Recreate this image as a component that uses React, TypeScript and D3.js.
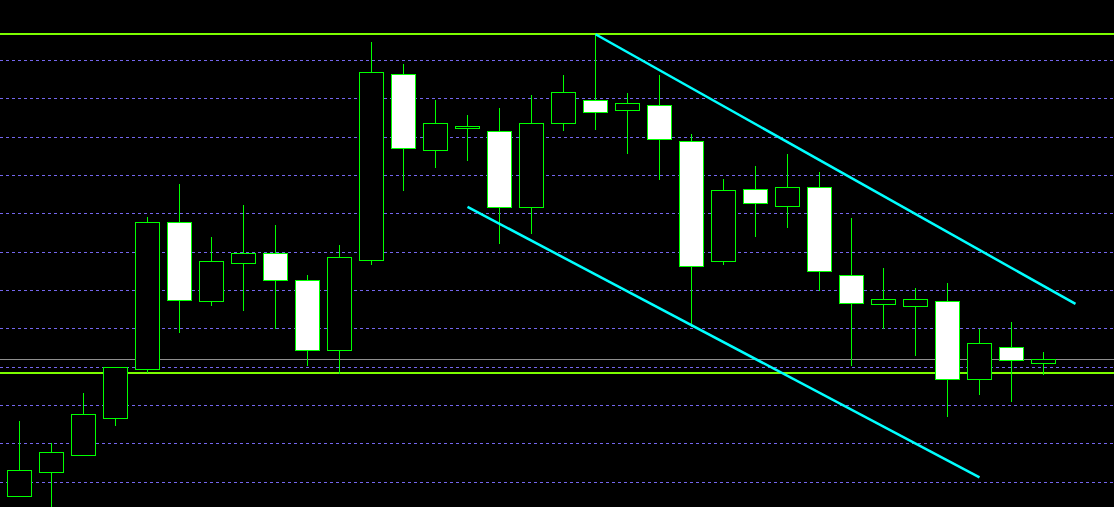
import React, { useEffect } from "react";
import * as d3 from "d3";

// OHLC prices (one candle per bar)
const opens = [1.29464, 1.29526, 1.2957, 1.29667, 1.29794, 1.30178, 1.29972, 1.30071, 1.30097, 1.30027, 1.29844, 1.30079, 1.30564, 1.30366, 1.30423, 1.30415, 1.30217, 1.30436, 1.30496, 1.3047, 1.30483, 1.30389, 1.30076, 1.30264, 1.3022, 1.30269, 1.3004, 1.29964, 1.29959, 1.29972, 1.29769, 1.29852, 1.2981];
const highs = [1.29662, 1.29605, 1.29735, 1.298, 1.30194, 1.3028, 1.30142, 1.30223, 1.30173, 1.30043, 1.30119, 1.3065, 1.30591, 1.30497, 1.30458, 1.30476, 1.3051, 1.30562, 1.30668, 1.30515, 1.30562, 1.3041, 1.30291, 1.30327, 1.30356, 1.30309, 1.30189, 1.30059, 1.30009, 1.3002, 1.299, 1.29918, 1.2984];
const lows = [1.29463, 1.2943, 1.2957, 1.29648, 1.29787, 1.2989, 1.2996, 1.29947, 1.29901, 1.29804, 1.29784, 1.30067, 1.3026, 1.3032, 1.30338, 1.30122, 1.30148, 1.30417, 1.30419, 1.30357, 1.30289, 1.29906, 1.30067, 1.3014, 1.30164, 1.29999, 1.29804, 1.29902, 1.2983, 1.29671, 1.29728, 1.2971, 1.29781];
const closes = [1.29531, 1.29578, 1.29677, 1.298, 1.30178, 1.29974, 1.30076, 1.30097, 1.30027, 1.29844, 1.30087, 1.30569, 1.30371, 1.30436, 1.30428, 1.30217, 1.30436, 1.30517, 1.30465, 1.30488, 1.30394, 1.30063, 1.30261, 1.30227, 1.30269, 1.3005, 1.29967, 1.29977, 1.29977, 1.29769, 1.29862, 1.29818, 1.29821];

// Horizontal grid levels
const gridLevels = [1.295, 1.296, 1.297, 1.298, 1.299, 1.3, 1.301, 1.302, 1.303, 1.304, 1.305, 1.306];
// Horizontal support / resistance levels
const levelLines = [1.30668, 1.29786];
// Current price (bid) line
const bidLevel = 1.29821;
// Trend lines: [startIndex, startPrice, endIndex, endPrice]
const trendStartIdx = [18, 14];
const trendStartPrice = [1.30668, 1.30218];
const trendEndIdx = [33, 30];
const trendEndPrice = [1.29965, 1.29513];

const W = 1114;
const H = 507;

export default function App() {
  useEffect(() => {
    document.body.style.margin = "0";
    document.body.style.background = "#000";
  }, []);

  const x = d3.scaleLinear().domain([0, 32]).range([19.5, 1043.5]);
  const y = d3.scaleLinear().domain([1.294356, 1.307573]).range([H, 0]);
  const snap = (v: number) => Math.floor(v) + 0.5;
  const half = 12;

  const candles = opens.map((o, i) => ({ o, h: highs[i], l: lows[i], c: closes[i], i }));

  return (
    <svg
      width={W}
      height={H}
      style={{ position: "fixed", left: 0, top: 0, display: "block", background: "#000" }}
    >
      <rect x={0} y={0} width={W} height={H} fill="#000" />
      {gridLevels.map((g, k) => (
        <line
          key={"g" + k}
          x1={0}
          x2={W}
          y1={snap(y(g))}
          y2={snap(y(g))}
          stroke="#7466ee"
          strokeWidth={1}
          strokeDasharray="3,3"
          shapeRendering="crispEdges"
        />
      ))}
      <line
        x1={0}
        x2={W}
        y1={snap(y(bidLevel))}
        y2={snap(y(bidLevel))}
        stroke="#8f8f8f"
        strokeWidth={1}
        shapeRendering="crispEdges"
      />
      {levelLines.map((lv, k) => (
        <line
          key={"lv" + k}
          x1={0}
          x2={W}
          y1={Math.round(y(lv))}
          y2={Math.round(y(lv))}
          stroke="#7cfc00"
          strokeWidth={2}
          shapeRendering="crispEdges"
        />
      ))}
      {candles.map((d) => {
        const cx = x(d.i);
        const top = snap(y(Math.max(d.o, d.c)));
        const bot = snap(y(Math.min(d.o, d.c)));
        const bull = d.c >= d.o;
        return (
          <g key={"c" + d.i} shapeRendering="crispEdges">
            <line x1={cx} x2={cx} y1={snap(y(d.h))} y2={snap(y(d.l))} stroke="#00ff00" strokeWidth={1} />
            <rect
              x={cx - half}
              y={top}
              width={half * 2}
              height={Math.max(bot - top, 1)}
              fill={bull ? "#000" : "#fff"}
              stroke="#00ff00"
              strokeWidth={1}
            />
          </g>
        );
      })}
      {trendStartIdx.map((s, k) => (
        <line
          key={"t" + k}
          x1={x(s)}
          y1={y(trendStartPrice[k])}
          x2={x(trendEndIdx[k])}
          y2={y(trendEndPrice[k])}
          stroke="#00ffff"
          strokeWidth={2.5}
        />
      ))}
    </svg>
  );
}
